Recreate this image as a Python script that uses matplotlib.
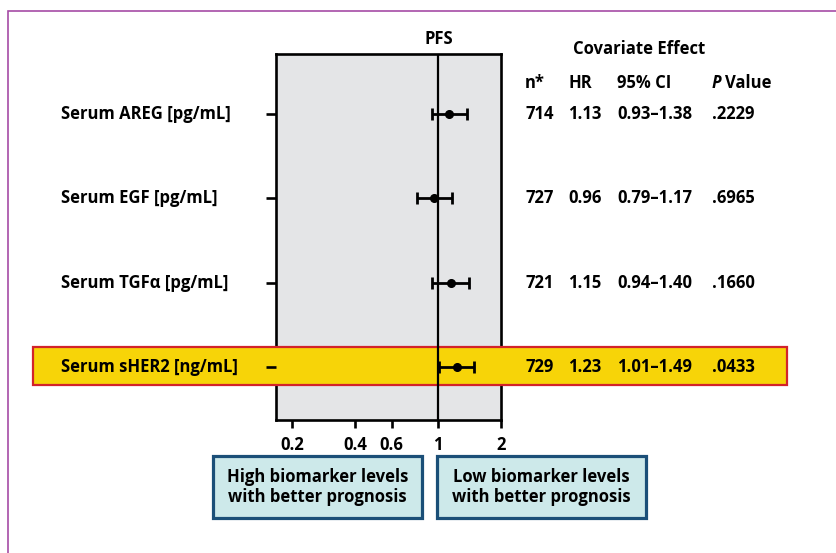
import numpy as np
import matplotlib
matplotlib.use("Agg")
import matplotlib.pyplot as plt
from matplotlib.patches import Rectangle
from matplotlib.transforms import blended_transform_factory
from matplotlib.ticker import NullLocator

# ---------------- data ----------------
biomarkers = ["Serum AREG [pg/mL]", "Serum EGF [pg/mL]", "Serum TGF\u03b1 [pg/mL]", "Serum sHER2 [ng/mL]"]
n_patients = ["714", "727", "721", "729"]
hr = [1.13, 0.96, 1.15, 1.23]
ci_low = [0.93, 0.79, 0.94, 1.01]
ci_high = [1.38, 1.17, 1.40, 1.49]
hr_text = ["1.13", "0.96", "1.15", "1.23"]
ci_text = ["0.93\u20131.38", "0.79\u20131.17", "0.94\u20131.40", "1.01\u20131.49"]
p_values = [".2229", ".6965", ".1660", ".0433"]
x_ticks = [0.2, 0.4, 0.6, 1, 2]
x_tick_labels = ["0.2", "0.4", "0.6", "1", "2"]
highlight_row = 3

# ---------------- style ----------------
plt.rcParams['font.family'] = ['Open Sans', 'DejaVu Sans']
plt.rcParams['font.weight'] = 'bold'
FS = 12
W, H = 836, 553

def fx(px):
    return px / W

def fy(py):
    return 1 - py / H

fig = plt.figure(figsize=(W / 100, H / 100), dpi=100)
fig.patch.set_facecolor("white")

# outer purple frame
fig.add_artist(Rectangle((fx(8), -0.05), 1.2, fy(10.5) + 0.05, transform=fig.transFigure,
                         facecolor="none", edgecolor="#a64ca6", lw=1.2, clip_on=False))

ax = fig.add_axes([fx(275.7), fy(420), (501 - 275.7) / W, (420 - 54) / H])
ax.set_facecolor("#e4e5e7")
ax.set_xscale("log")
ax.set_xlim(0.167, 2.0)
rows = np.arange(len(biomarkers))
ax.set_ylim(3.629, -0.712)

for s in ax.spines.values():
    s.set_linewidth(1.9)
    s.set_color("black")

ax.set_xticks(x_ticks)
ax.set_xticklabels(x_tick_labels)
ax.xaxis.set_minor_locator(NullLocator())
ax.tick_params(axis='x', length=5.5, width=1.9, pad=6, labelsize=FS, colors="black")
ax.set_yticks(rows)
ax.set_yticklabels([])
ax.tick_params(axis='y', length=7.5, width=1.9)
ax.yaxis.set_zorder(3)

# highlight band
band_tr = blended_transform_factory(fig.transFigure, ax.transData)
ax.add_patch(Rectangle((fx(33), highlight_row - 0.24), (787 - 33) / W, 0.455, transform=band_tr,
                       facecolor="#f7d408", edgecolor="#d2232a", lw=1.6, clip_on=False, zorder=2.6))

ax.axvline(1, color="black", lw=1.6, zorder=3.5)

hr_a = np.array(hr)
xerr = [hr_a - np.array(ci_low), np.array(ci_high) - hr_a]
ax.errorbar(hr, rows, xerr=xerr, fmt='o', color='black', ms=5.5, elinewidth=2.0,
            capsize=4, capthick=2.0, zorder=4)

# row texts
for i, r in enumerate(rows):
    ax.text(fx(61), r, biomarkers[i], transform=band_tr, ha='left', va='center', fontsize=FS, zorder=5)
    ax.text(fx(525), r, n_patients[i], transform=band_tr, ha='left', va='center', fontsize=FS, zorder=5)
    ax.text(fx(568), r, hr_text[i], transform=band_tr, ha='left', va='center', fontsize=FS, zorder=5)
    ax.text(fx(617), r, ci_text[i], transform=band_tr, ha='left', va='center', fontsize=FS, zorder=5)
    ax.text(fx(712), r, p_values[i], transform=band_tr, ha='left', va='center', fontsize=FS, zorder=5)

# headers
fig.text(fx(439), fy(39), "PFS", ha='center', va='center', fontsize=FS)
fig.text(fx(639), fy(49), "Covariate Effect", ha='center', va='center', fontsize=FS)
fig.text(fx(525), fy(83.5), "n*", ha='left', va='center', fontsize=FS)
fig.text(fx(568), fy(83.5), "HR", ha='left', va='center', fontsize=FS)
fig.text(fx(617), fy(83.5), "95% CI", ha='left', va='center', fontsize=FS)
fig.text(fx(712), fy(83.5), "P", ha='left', va='center', fontsize=FS, style='italic')
fig.text(fx(725), fy(83.5), "Value", ha='left', va='center', fontsize=FS)

# bottom boxes
boxes = [((213.3, 422.3), "High biomarker levels\nwith better prognosis"),
         ((436.7, 645.7), "Low biomarker levels\nwith better prognosis")]
for (x0, x1), txt in boxes:
    fig.add_artist(Rectangle((fx(x0), fy(518.3)), (x1 - x0) / W, (518.3 - 455.7) / H,
                             transform=fig.transFigure, facecolor="#cde9ea",
                             edgecolor="#1b4f78", lw=2.3))
    fig.text(fx((x0 + x1) / 2), fy(487), txt, ha='center', va='center', fontsize=FS,
             linespacing=1.1)

fig.savefig("out.png", dpi=100)
